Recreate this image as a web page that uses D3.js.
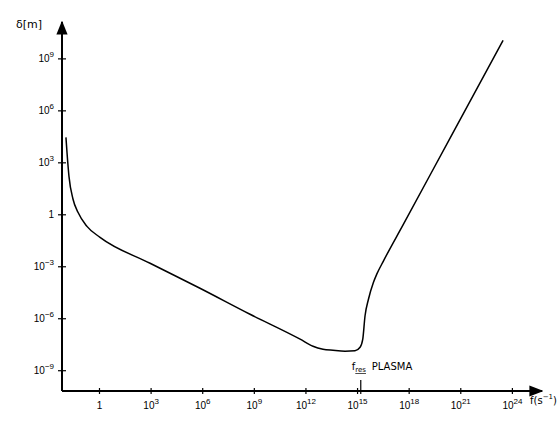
<!DOCTYPE html>
<html>
<head>
<meta charset="utf-8">
<script src="https://cdn.jsdelivr.net/npm/d3@7"></script>
<style>
  body { margin: 0; background: #fff; }
  svg { font-family: "DejaVu Sans", sans-serif; }
</style>
</head>
<body>
<svg id="chart" width="560" height="434"></svg>
<script>
// frequency f (s^-1) and skin depth delta (m)
const freq = [0.012, 0.0138, 0.018, 0.031, 0.06, 0.2, 1.15, 930, 7.4e5, 6e8, 4.9e11,
  2.75e12, 1.05e13, 4e13, 2e14, 7.6e14, 1.5e15, 2.15e15, 2.9e15, 4.6e15, 8.9e15,
  1.4e16, 3.4e16, 4.9e17, 2.6e20, 3.1e23]
const delta = [2.75e4, 3.8e3, 155, 7.4, 1.3, 0.2, 0.047, 1.5e-3, 5.4e-5, 1.7e-6, 6.2e-8,
  2.4e-8, 1.62e-8, 1.41e-8, 1.26e-8, 1.32e-8, 2.1e-8, 6.2e-8, 1.35e-6, 1.25e-5, 1.15e-4,
  3.5e-4, 2.0e-3, 0.26, 2.6e4, 1.1e10]

const xTickExp = [0, 3, 6, 9, 12, 15, 18, 21, 24]
const yTickExp = [9, 6, 3, 0, -3, -6, -9]
const plasmaFreq = 1.1e15

const plotLeft = 62, plotRight = 542, plotTop = 22, plotBottom = 391

const svg = d3.select('#chart')

const x = d3.scaleLog().domain([10 ** -2.15, 10 ** 25.75]).range([plotLeft, plotRight])
const y = d3.scaleLog().domain([10 ** -10.2, 10 ** 11.1]).range([plotBottom, plotTop])

const label = (sel, e) => {
  if (e === 0) { sel.text('1'); return }
  sel.text('10')
  sel.append('tspan').attr('dy', -5).style('font-size', '8px').text(String(e).replace('-', '−'))
}

// arrow marker
svg.append('defs').append('marker')
  .attr('id', 'arrow')
  .attr('viewBox', '0 0 10 10')
  .attr('refX', 9).attr('refY', 5)
  .attr('markerWidth', 7).attr('markerHeight', 7)
  .attr('orient', 'auto')
  .append('path').attr('d', 'M0,1 L10,5 L0,9 Z').attr('fill', '#000')

// axes lines
svg.append('line').attr('x1', plotLeft).attr('y1', plotBottom).attr('x2', plotRight).attr('y2', plotBottom)
  .attr('stroke', '#000').attr('stroke-width', 2).attr('marker-end', 'url(#arrow)')
svg.append('line').attr('x1', plotLeft).attr('y1', plotBottom).attr('x2', plotLeft).attr('y2', plotTop)
  .attr('stroke', '#000').attr('stroke-width', 2).attr('marker-end', 'url(#arrow)')

// x axis ticks
const xAxis = d3.axisBottom(x).tickValues(xTickExp.map(e => 10 ** e)).tickSizeOuter(0).tickFormat('')
const gx = svg.append('g').attr('transform', `translate(0,${plotBottom})`).call(xAxis)
gx.select('.domain').remove()
gx.selectAll('.tick line').attr('y1', -3).attr('y2', 3).attr('stroke-width', 1.2)
gx.selectAll('.tick text').remove()
gx.selectAll('.tick').append('text')
  .attr('y', 18).attr('text-anchor', 'middle')
  .attr('fill', '#000').style('font-size', '10px')
  .each(function (d) { label(d3.select(this), Math.round(Math.log10(d))) })

// y axis ticks
const yAxis = d3.axisLeft(y).tickValues(yTickExp.map(e => 10 ** e)).tickSizeOuter(0).tickFormat('')
const gy = svg.append('g').attr('transform', `translate(${plotLeft},0)`).call(yAxis)
gy.select('.domain').remove()
gy.selectAll('.tick line').attr('x1', -4).attr('x2', 4).attr('stroke-width', 1.2)
gy.selectAll('.tick text').remove()
gy.selectAll('.tick').append('text')
  .attr('x', -8).attr('dy', '0.35em').attr('text-anchor', 'end')
  .attr('fill', '#000').style('font-size', '10px')
  .each(function (d) { label(d3.select(this), Math.round(Math.log10(d))) })

// axis titles
svg.append('text').attr('x', 16).attr('y', 28).style('font-size', '11px').text('δ[m]')
svg.append('text').attr('x', 530).attr('y', 404).style('font-size', '10px')
  .text('f(s')
  .append('tspan').attr('dy', -5).style('font-size', '7px').text('−1')
  .append('tspan').attr('dy', 5).style('font-size', '10px').text(')')

// plasma frequency marker
const px = x(plasmaFreq)
svg.append('line').attr('x1', px + 3).attr('x2', px + 3).attr('y1', plotBottom - 11).attr('y2', plotBottom + 3)
  .attr('stroke', '#000').attr('stroke-width', 1.2)
svg.append('text').attr('x', px - 6).attr('y', plotBottom - 21).style('font-size', '10px')
  .text('f')
  .append('tspan').attr('dy', 2).style('font-size', '7px').style('text-decoration', 'underline').text('res')
svg.append('text').attr('x', px + 14).attr('y', plotBottom - 21).style('font-size', '10px').text('PLASMA')

// curve
const line = d3.line()
  .x((d, i) => x(freq[i]))
  .y(d => y(d))
  .curve(d3.curveMonotoneX)

svg.append('path')
  .datum(delta)
  .attr('d', line)
  .attr('fill', 'none')
  .attr('stroke', '#000')
  .attr('stroke-width', 1.5)
</script>
</body>
</html>
